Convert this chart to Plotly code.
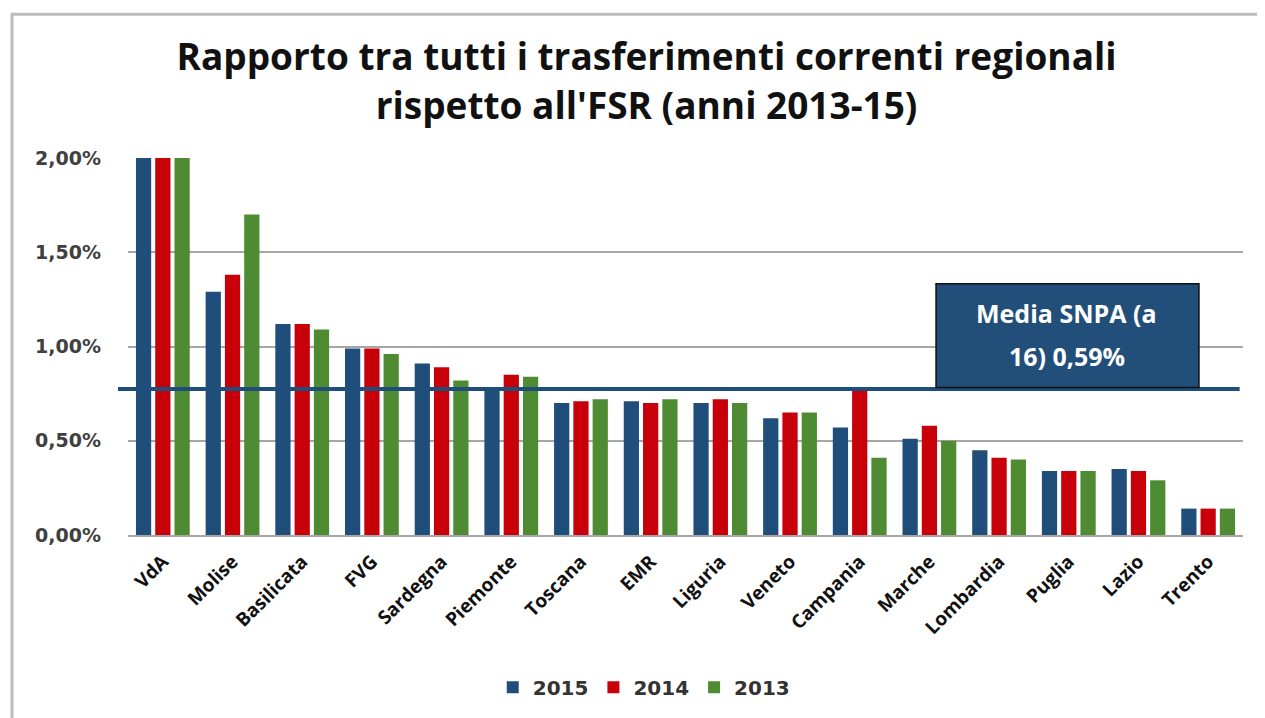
import plotly.graph_objects as go

regions = ["VdA", "Molise", "Basilicata", "FVG", "Sardegna", "Piemonte", "Toscana", "EMR",
           "Liguria", "Veneto", "Campania", "Marche", "Lombardia", "Puglia", "Lazio", "Trento"]
v2015 = [2.00, 1.29, 1.12, 0.99, 0.91, 0.78, 0.70, 0.71, 0.70, 0.62, 0.57, 0.51, 0.45, 0.34, 0.35, 0.14]
v2014 = [2.00, 1.38, 1.12, 0.99, 0.89, 0.85, 0.71, 0.70, 0.72, 0.65, 0.77, 0.58, 0.41, 0.34, 0.34, 0.14]
v2013 = [2.00, 1.70, 1.09, 0.96, 0.82, 0.84, 0.72, 0.72, 0.70, 0.65, 0.41, 0.50, 0.40, 0.34, 0.29, 0.14]
series_names = ["2015", "2014", "2013"]
series_colors = ["#1F4E7A", "#C8000A", "#4E8B32"]
media_line = 0.775
media_lines = ["Media SNPA (a", "16) 0,59%"]
title_text = "Rapporto tra tutti i trasferimenti correnti regionali<br>rispetto all'FSR (anni 2013-15)"
y_ticks = [0, 0.5, 1.0, 1.5, 2.0]
y_ticktext = [f"{v:.2f}".replace(".", ",") + "%" for v in y_ticks]

fig = go.Figure()
for name, vals, col in zip(series_names, [v2015, v2014, v2013], series_colors):
    fig.add_trace(go.Bar(x=regions, y=vals, name=name, marker=dict(color=col, line=dict(width=0))))

fig.add_shape(type="line", xref="paper", yref="y", x0=-0.009, x1=0.997, y0=media_line, y1=media_line,
              line=dict(color="#1F4E7A", width=4), layer="above")

# annotation box
fig.add_shape(type="rect", xref="paper", yref="paper", x0=0.7247, x1=0.9605, y0=0.3915, y1=0.6667,
              fillcolor="#224F7A", line=dict(color="#111111", width=1.5), layer="above")
for txt, yy in zip(media_lines, [0.590, 0.476]):
    fig.add_annotation(xref="paper", yref="paper", x=0.842, y=yy, xanchor="center", yanchor="middle",
                       text="<b>" + txt + "</b>", showarrow=False,
                       font=dict(family="Open Sans", size=25, color="white"))

# outer frame
fig.add_shape(type="rect", xref="paper", yref="paper", x0=-0.104, x1=1.1, y0=-0.7, y1=1.381,
              line=dict(color="#BDBDBD", width=3), fillcolor="rgba(0,0,0,0)", layer="below")

fig.update_layout(
    width=1257, height=710,
    margin=dict(l=120, r=22, t=150, b=182),
    paper_bgcolor="white", plot_bgcolor="white",
    barmode="group", bargap=0.17, bargroupgap=0.21,
    title=dict(text="<b>" + title_text + "</b>", x=0.508, xanchor="center", y=0.912, yanchor="middle",
               font=dict(family="Open Sans", size=37, color="#111111")),
    legend=dict(orientation="h", x=0.463, xanchor="center", y=-0.40, yanchor="middle",
                font=dict(family="DejaVu Sans", size=20, color="#333333", weight="bold"),
                traceorder="normal", itemwidth=30),
    xaxis=dict(tickangle=-45, tickfont=dict(family="Open Sans", size=19, color="#111111", weight="bold"),
               showline=True, linecolor="#A6A6A6", linewidth=2, ticks="", showgrid=False,
               ticklabelstandoff=6),
    yaxis=dict(range=[0, 2.0], tickvals=y_ticks, ticktext=y_ticktext,
               tickfont=dict(family="DejaVu Sans", size=19, color="#404040", weight="bold"),
               showgrid=True, gridcolor="#A6A6A6", gridwidth=1.5, zeroline=False,
               ticklabelstandoff=26),
)

fig.write_html("out.html")
